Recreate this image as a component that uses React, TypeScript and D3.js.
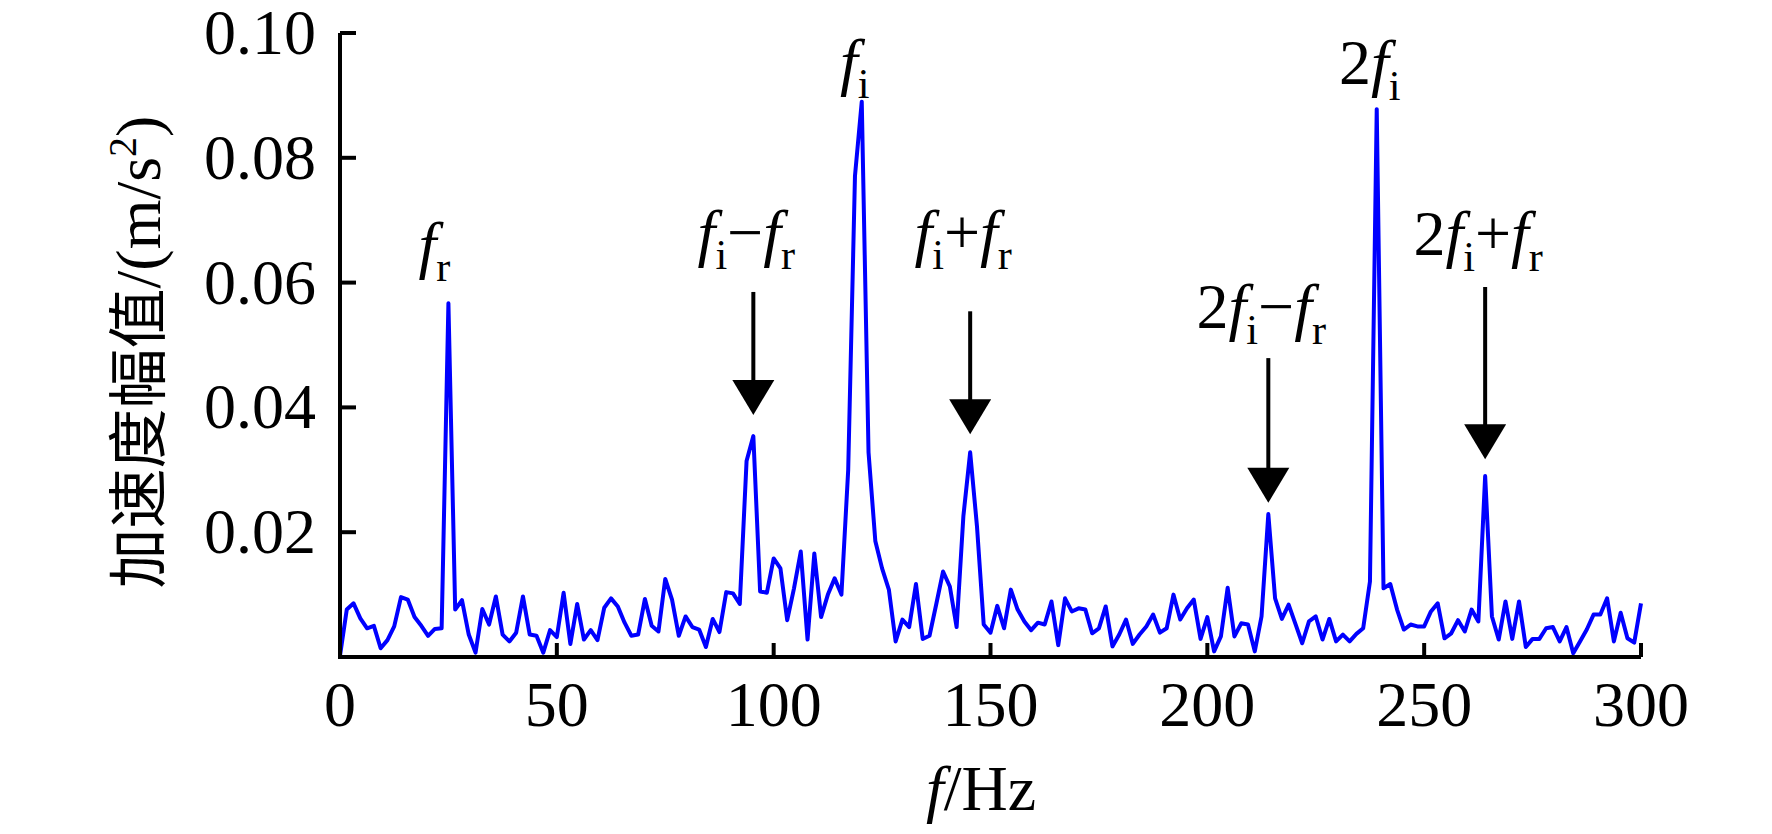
import React from "react";
import * as d3 from "d3";

// Spectrum amplitude (m/s^2), sampled every freqStep Hz from 0 to 300 Hz
const freqStep = 1.5625;
const amplitude = [
  0.0002, 0.0076, 0.0086, 0.0062, 0.0046, 0.0050, 0.0014, 0.0027, 0.0049, 0.0096,
  0.0092, 0.0064, 0.0050, 0.0034, 0.0045, 0.0046, 0.0567, 0.0076, 0.0091, 0.0036,
  0.0007, 0.0077, 0.0052, 0.0097, 0.0036, 0.0025, 0.0039, 0.0097, 0.0036, 0.0034,
  0.0007, 0.0043, 0.0032, 0.0103, 0.0021, 0.0085, 0.0028, 0.0043, 0.0027, 0.0079,
  0.0094, 0.0081, 0.0055, 0.0034, 0.0036, 0.0093, 0.0050, 0.0041, 0.0125, 0.0092,
  0.0034, 0.0065, 0.0048, 0.0044, 0.0016, 0.0061, 0.0040, 0.0104, 0.0102, 0.0085,
  0.0314, 0.0354, 0.0105, 0.0103, 0.0158, 0.0142, 0.0059, 0.0110, 0.0169, 0.0028,
  0.0166, 0.0064, 0.0100, 0.0126, 0.0100, 0.0300, 0.0771, 0.0890, 0.0328, 0.0186,
  0.0142, 0.0108, 0.0025, 0.0060, 0.0048, 0.0117, 0.0029, 0.0034, 0.0085, 0.0137,
  0.0113, 0.0048, 0.0226, 0.0328, 0.0210, 0.0052, 0.0039, 0.0082, 0.0046, 0.0108,
  0.0076, 0.0057, 0.0043, 0.0055, 0.0052, 0.0089, 0.0019, 0.0094, 0.0073, 0.0078,
  0.0076, 0.0038, 0.0046, 0.0081, 0.0017, 0.0036, 0.0060, 0.0021, 0.0036, 0.0049,
  0.0068, 0.0039, 0.0046, 0.0100, 0.0060, 0.0078, 0.0092, 0.0029, 0.0064, 0.0009,
  0.0033, 0.0111, 0.0033, 0.0054, 0.0052, 0.0009, 0.0065, 0.0229, 0.0094, 0.0061,
  0.0084, 0.0053, 0.0022, 0.0057, 0.0065, 0.0028, 0.0061, 0.0025, 0.0036, 0.0025,
  0.0037, 0.0046, 0.0121, 0.0878, 0.0110, 0.0117, 0.0076, 0.0044, 0.0052, 0.0049,
  0.0049, 0.0073, 0.0086, 0.0030, 0.0038, 0.0059, 0.0041, 0.0076, 0.0057, 0.0290,
  0.0065, 0.0028, 0.0089, 0.0029, 0.0089, 0.0016, 0.0029, 0.0029, 0.0046, 0.0048,
  0.0025, 0.0048, 0.0006, 0.0025, 0.0044, 0.0068, 0.0068, 0.0094, 0.0025, 0.0071,
  0.0030, 0.0023, 0.0086,
];

const xTicks = [0, 50, 100, 150, 200, 250, 300];
const yTicks = [0.02, 0.04, 0.06, 0.08, 0.1];

// Peak annotations
const peakLabels = ["f_r", "f_i", "f_i−f_r", "f_i+f_r", "2f_i", "2f_i−f_r", "2f_i+f_r"];
const peakIndex = [16, 77, 61, 93, 153, 137, 169];
const peakLabelLevel = [0.0627, 0.092, 0.0646, 0.0646, 0.0918, 0.0527, 0.0644];
const peakHasArrow = [false, false, true, true, false, true, true];
const arrowTop = [0, 0, 0.0585, 0.0554, 0, 0.0479, 0.0593];
const arrowTip = [0, 0, 0.0388, 0.0357, 0, 0.0247, 0.0317];

const W = 1772;
const H = 834;
const serif = '"Liberation Serif", "Times New Roman", serif';
const cjk = '"Noto Sans CJK SC", "Noto Sans CJK JP", sans-serif';

const x = d3.scaleLinear().domain([0, 300]).range([340, 1641]);
const y = d3.scaleLinear().domain([0, 0.1]).range([657, 33]);

type Tok = { text: string; italic: boolean; sub: boolean };

function tokenize(s: string): Tok[] {
  const toks: Tok[] = [];
  let i = 0;
  while (i < s.length) {
    const c = s[i];
    if (c === "_") {
      toks.push({ text: s[i + 1], italic: false, sub: true });
      i += 2;
    } else {
      toks.push({ text: c, italic: c === "f", sub: false });
      i++;
    }
  }
  return toks;
}

function renderLabel(s: string, fs: number) {
  const subSize = fs * 0.66;
  const drop = fs * 0.24;
  let level = 0;
  return tokenize(s).map((t, k) => {
    const target = t.sub ? drop : 0;
    const dy = target - level;
    level = target;
    return (
      <tspan
        key={k}
        dy={dy}
        fontSize={t.sub ? subSize : fs}
        fontStyle={t.italic ? "italic" : "normal"}
      >
        {t.text}
      </tspan>
    );
  });
}

export default function App() {
  const line = d3
    .line<number>()
    .x((_, i) => x(i * freqStep))
    .y((d) => y(d));
  const path = line(amplitude) || "";
  const fs = 64;

  return (
    <svg
      width={W}
      height={H}
      style={{ position: "absolute", left: 0, top: 0, background: "#fff" }}
      fontFamily={serif}
    >
      <rect x={0} y={0} width={W} height={H} fill="#fff" />
      {/* data line */}
      <path d={path} fill="none" stroke="#0000ff" strokeWidth={4} strokeLinejoin="round" />

      {/* axes */}
      <line x1={x(0)} x2={x(300)} y1={y(0)} y2={y(0)} stroke="#000" strokeWidth={4} />
      <line x1={x(0)} x2={x(0)} y1={y(0) + 2} y2={y(0.1)} stroke="#000" strokeWidth={4} />
      {xTicks.map((t) => (
        <g key={"xt" + t}>
          <line x1={x(t)} x2={x(t)} y1={y(0)} y2={y(0) - 14} stroke="#000" strokeWidth={4} />
          <text x={x(t)} y={726} fontSize={fs} textAnchor="middle" fill="#000">
            {t}
          </text>
        </g>
      ))}
      {yTicks.map((t) => (
        <g key={"yt" + t}>
          <line x1={x(0)} x2={x(0) + 16} y1={y(t)} y2={y(t)} stroke="#000" strokeWidth={4} />
          <text x={316} y={y(t) + 21} fontSize={fs} textAnchor="end" fill="#000">
            {d3.format(".2f")(t)}
          </text>
        </g>
      ))}

      {/* axis titles */}
      <text x={981} y={810} fontSize={fs} textAnchor="middle" fill="#000">
        <tspan fontStyle="italic">f</tspan>
        <tspan>/Hz</tspan>
      </text>
      <text
        transform={`translate(160, 352) rotate(-90)`}
        fontSize={fs}
        textAnchor="middle"
        fill="#000"
      >
        <tspan fontFamily={cjk} fontSize={60}>
          加速度幅值
        </tspan>
        <tspan>/(m/s</tspan>
        <tspan fontSize={40} dy={-24}>
          2
        </tspan>
        <tspan dy={24}>)</tspan>
      </text>

      {/* peak labels and arrows */}
      {peakLabels.map((lab, j) => {
        const px = x(peakIndex[j] * freqStep) + (j === 0 ? -14 : -7);
        return (
          <text key={"pl" + j} x={px} y={y(peakLabelLevel[j])} fontSize={fs} textAnchor="middle" fill="#000">
            {renderLabel(lab, fs)}
          </text>
        );
      })}
      {peakLabels.map((_, j) => {
        if (!peakHasArrow[j]) return null;
        const ax = x(peakIndex[j] * freqStep);
        const top = y(arrowTop[j]);
        const tip = y(arrowTip[j]);
        const headH = 35;
        const headW = 42;
        return (
          <g key={"ar" + j}>
            <line x1={ax} x2={ax} y1={top} y2={tip - headH + 2} stroke="#000" strokeWidth={4} />
            <path
              d={`M${ax - headW / 2},${tip - headH} L${ax + headW / 2},${tip - headH} L${ax},${tip} Z`}
              fill="#000"
            />
          </g>
        );
      })}
    </svg>
  );
}
